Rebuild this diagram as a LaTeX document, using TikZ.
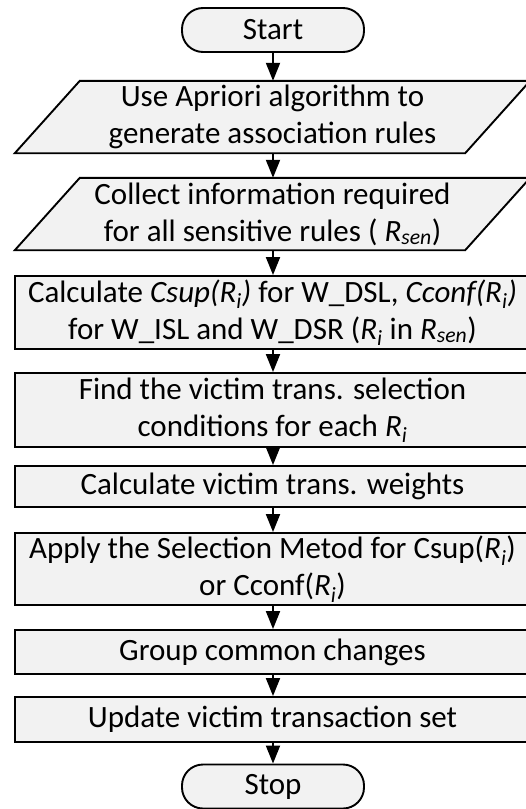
\documentclass[tikz,border=0pt]{standalone}
\usepackage{fontspec}
\setmainfont{Carlito}
\usetikzlibrary{arrows.meta,backgrounds}
\definecolor{boxfill}{HTML}{F2F2F2}
\newcommand\Ri{\textit{R}\textsubscript{\textit{i}}}
\newcommand\Rsen{\textit{R}\textsubscript{\textit{sen}}}
\begin{document}
\begin{tikzpicture}[x=1pt,y=-1pt,
  txt/.style={align=center,inner sep=0pt,font=\fontsize{31}{37}\selectfont},
  outline/.style={draw=black,line width=1.9pt,fill=boxfill},
  term/.style={txt,outline,rounded corners=21pt,minimum width=182pt,minimum height=44pt},
  stepbox/.style={txt,outline,minimum width=515pt},
  iobox/.style={txt,minimum width=515pt},
  flow/.style={line width=1.9pt,-{Triangle[length=18pt,width=14pt]}}]
\useasboundingbox (0,0) rectangle (526,809);

\node[term] (start) at (273,30) {Start};
\node[iobox,minimum height=72pt] (apriori) at (272.5,117) {Use Apriori algorithm to\\generate association rules};
\node[iobox,minimum height=72pt] (collect) at (272.5,214) {Collect information required\\for all sensitive rules ( \Rsen)};
\node[stepbox,minimum height=73pt] (calc) at (272.5,312.5) {Calculate \textit{Csup(}\Ri\textit{)} for W\_DSL, \textit{Cconf(}\Ri\textit{)}\\for W\_ISL and W\_DSR (\Ri{} in \Rsen)};
\node[stepbox,minimum height=74pt] (find) at (272.5,410) {Find the victim trans. selection\\conditions for each \Ri};
\node[stepbox,minimum height=41pt] (weights) at (272.5,486.5) {Calculate victim trans. weights};
\node[stepbox,minimum height=72pt] (apply) at (272.5,569) {Apply the Selection Metod for Csup(\Ri)\\or Cconf(\Ri)};
\node[stepbox,minimum height=44pt] (group) at (272.5,652) {Group common changes};
\node[stepbox,minimum height=45pt] (update) at (272.5,719.5) {Update victim transaction set};
\node[term] (stop) at (273,786.5) {Stop};

% slanted input/output boxes
\begin{pgfonlayer}{background}
  \foreach \n in {apriori,collect}
    \draw[outline,line join=miter] (\n.south west) -- ([xshift=-65pt]\n.south east)
      -- (\n.north east) -- ([xshift=65pt]\n.north west) -- cycle;
\end{pgfonlayer}

\draw[flow] (start.south -| 273,0) -- (apriori.north -| 273,0);
\draw[flow] (apriori.south -| 273,0) -- (collect.north -| 273,0);
\draw[flow] (collect.south -| 273,0) -- (calc.north -| 273,0);
\draw[flow] (calc.south -| 273,0) -- (find.north -| 273,0);
\draw[flow] (find.south -| 273,0) -- (weights.north -| 273,0);
\draw[flow] (weights.south -| 273,0) -- (apply.north -| 273,0);
\draw[flow] (apply.south -| 273,0) -- (group.north -| 273,0);
\draw[flow] (group.south -| 273,0) -- (update.north -| 273,0);
\draw[flow] (update.south -| 273,0) -- (stop.north);
\end{tikzpicture}
\end{document}
